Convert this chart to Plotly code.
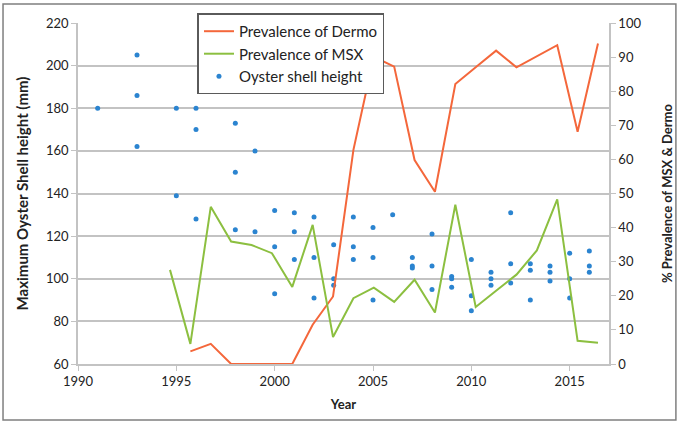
import plotly.graph_objects as go

# Oyster shell height samples (year, maximum shell height in mm)
shell_years = [1991,
               1993, 1993, 1993,
               1995, 1995,
               1996, 1996, 1996,
               1998, 1998, 1998,
               1999, 1999,
               2000, 2000, 2000,
               2001, 2001, 2001,
               2002, 2002, 2002,
               2003, 2003, 2003,
               2004, 2004, 2004,
               2005, 2005, 2005,
               2006,
               2007, 2007, 2007,
               2008, 2008, 2008,
               2009, 2009, 2009,
               2010, 2010, 2010,
               2011, 2011, 2011,
               2012, 2012, 2012,
               2013, 2013, 2013,
               2014, 2014, 2014,
               2015, 2015, 2015,
               2016, 2016, 2016]
shell_height = [180,
                205, 186, 162,
                180, 139,
                180, 170, 128,
                173, 150, 123,
                160, 122,
                132, 115, 93,
                131, 122, 109,
                129, 110, 91,
                116, 100, 97,
                129, 115, 109,
                124, 110, 90,
                130,
                110, 106, 105,
                121, 106, 95,
                101, 100, 96,
                109, 92, 85,
                103, 100, 97,
                131, 107, 98,
                107, 104, 90,
                106, 103, 99,
                112, 100, 91,
                113, 106, 103]

# Disease prevalence (%)
msx_years = list(range(1995, 2017))
msx_prev = [27.6, 5.9, 46.1, 35.9, 34.9, 32.5, 22.6, 40.8, 7.9, 19.3, 22.4,
            18.2, 24.7, 15.1, 46.7, 16.7, 21.5, 26.2, 33.3, 48.3, 6.8, 6.2]

dermo_years = list(range(1996, 2017))
dermo_prev = [3.7, 5.9, 0, 0, 0, 0, 11.5, 19.8, 62.8, 90.1, 87.2, 59.8,
              50.5, 82.1, 87.0, 91.9, 87.0, 90.3, 93.5, 68.1, 94.0]

FONT = "Lato"
GRID = "#c3c3c3"
TEXT = "#222222"

fig = go.Figure()

fig.add_trace(go.Scatter(
    x=dermo_years, y=dermo_prev, name="Prevalence of Dermo",
    mode="lines", line=dict(color="#f4673b", width=2),
    xaxis="x2", yaxis="y2", legendgroup="a"))

fig.add_trace(go.Scatter(
    x=msx_years, y=msx_prev, name="Prevalence of MSX",
    mode="lines", line=dict(color="#8cbf40", width=2),
    xaxis="x2", yaxis="y2", legendgroup="b"))

fig.add_trace(go.Scatter(
    x=shell_years, y=shell_height, name="Oyster shell height",
    mode="markers", marker=dict(color="#2b84d0", size=5, symbol="circle"),
    xaxis="x", yaxis="y", legendgroup="c"))

fig.update_layout(
    width=678, height=422,
    margin=dict(l=78, r=69, t=23, b=58, autoexpand=False),
    paper_bgcolor="white", plot_bgcolor="white",
    font=dict(family=FONT, size=13, color=TEXT),
    showlegend=True,
    legend=dict(
        x=0.225, y=1.028, xanchor="left", yanchor="top",
        bgcolor="white", bordercolor="#5a5a5a", borderwidth=1.5,
        font=dict(family=FONT, size=15, color=TEXT),
        itemwidth=30, tracegroupgap=7, traceorder="normal",
    ),
    xaxis=dict(
        range=[1990, 2017], tick0=1990, dtick=5,
        showgrid=False, zeroline=False, automargin=False,
        showline=True, linecolor=GRID, linewidth=1.5,
        ticks="outside", ticklen=5, tickcolor=GRID,
        title=dict(text="<b>Year</b>", standoff=12,
                   font=dict(family=FONT, size=13, color=TEXT)),
    ),
    xaxis2=dict(
        range=[1990.486, 2016.54], overlaying="x", visible=False,
        anchor="y2",
    ),
    yaxis=dict(
        range=[60, 220], tick0=60, dtick=20,
        showgrid=True, gridcolor=GRID, gridwidth=1.5, zeroline=False,
        automargin=False,
        showline=True, linecolor=GRID, linewidth=1.5,
        ticks="outside", ticklen=5, tickcolor=GRID,
        title=dict(text="<b>Maximum Oyster Shell height (mm)</b>", standoff=14,
                   font=dict(family=FONT, size=15, color=TEXT)),
    ),
    yaxis2=dict(
        range=[0, 100], tick0=0, dtick=10,
        overlaying="y", side="right", anchor="x",
        showgrid=False, zeroline=False, automargin=False,
        showline=True, linecolor=GRID, linewidth=1.5,
        ticks="outside", ticklen=5, tickcolor=GRID,
        title=dict(text="<b>% Prevalence of MSX & Dermo</b>", standoff=22,
                   font=dict(family=FONT, size=13, color=TEXT)),
    ),
    shapes=[dict(
        type="rect", xref="paper", yref="paper",
        x0=-0.1412, x1=1.126, y0=-0.164, y1=1.0557,
        line=dict(color="#7f7f7f", width=1.5), fillcolor="rgba(0,0,0,0)",
        layer="below",
    )],
)

fig.write_html("out.html")
